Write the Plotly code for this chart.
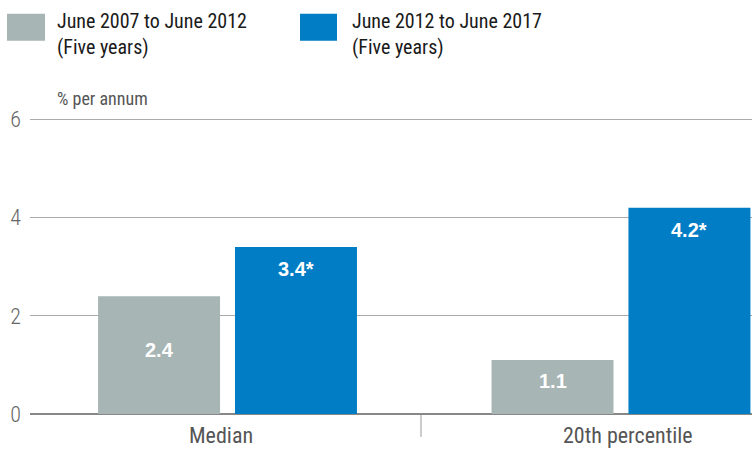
import plotly.graph_objects as go

categories = ["Median", "20th percentile"]
series_names = ["June 2007 to June 2012<br>(Five years)", "June 2012 to June 2017<br>(Five years)"]
values_2007_2012 = [2.4, 1.1]
values_2012_2017 = [3.4, 4.2]
labels_2007_2012 = ["2.4", "1.1"]
labels_2012_2017 = ["3.4*", "4.2*"]
y_ticks = [0, 2, 4, 6]
y_title = "% per annum"

GREY = "#A8B5B5"
BLUE = "#007DC5"
FONT = "Roboto Condensed, Roboto, sans-serif"

W, H = 752, 450
L, R, T, B = 30, 0, 116.5, 36
pw, ph = W - L - R, H - T - B

def px(x):
    return (x - L) / pw

def py(y):
    return (H - B - y) / ph

xpos = [0, 1]
offset = 0.174
bw = 0.31

fig = go.Figure()
fig.add_trace(go.Bar(x=[p - offset for p in xpos], y=values_2007_2012, width=bw,
                     marker=dict(color=GREY, line=dict(width=0)), name=series_names[0],
                     showlegend=False, hoverinfo="skip"))
fig.add_trace(go.Bar(x=[p + offset for p in xpos], y=values_2012_2017, width=bw,
                     marker=dict(color=BLUE, line=dict(width=0)), name=series_names[1],
                     showlegend=False, hoverinfo="skip"))

annotations = []
yshifts_a = [-54, -21]
for p, v, t, s in zip(xpos, values_2007_2012, labels_2007_2012, yshifts_a):
    annotations.append(dict(x=p - offset, y=v, xref="x", yref="y", text=t, showarrow=False,
                            yanchor="middle", yshift=s,
                            font=dict(family="Liberation Sans, Arial", size=20, color="white", weight="bold")))
for p, v, t in zip(xpos, values_2012_2017, labels_2012_2017):
    annotations.append(dict(x=p + offset, y=v, xref="x", yref="y", text=t, showarrow=False,
                            yanchor="middle", yshift=-22,
                            font=dict(family="Liberation Sans, Arial", size=20, color="white", weight="bold")))
for p, c, xs in zip(xpos, categories, [-7, 7]):
    annotations.append(dict(x=p, y=0, xref="x", yref="y", text=c, showarrow=False,
                            yanchor="middle", yshift=-21, xshift=xs,
                            font=dict(family=FONT, size=22, color="#555555")))
annotations.append(dict(x=px(55), y=py(98), xref="paper", yref="paper", text=y_title,
                        showarrow=False, xanchor="left", yanchor="middle",
                        font=dict(family=FONT, size=18, color="#555555")))
for lx, name in [(55, series_names[0]), (350, series_names[1])]:
    annotations.append(dict(x=px(lx), y=py(33), xref="paper", yref="paper", text=name,
                            showarrow=False, xanchor="left", yanchor="middle", align="left",
                            font=dict(family=FONT, size=20, color="#1a1a1a")))

shapes = [
    dict(type="rect", xref="paper", yref="paper", x0=px(7), x1=px(45), y0=py(40), y1=py(13),
         fillcolor=GREY, line=dict(width=0)),
    dict(type="rect", xref="paper", yref="paper", x0=px(300), x1=px(337), y0=py(40), y1=py(13),
         fillcolor=BLUE, line=dict(width=0)),
    dict(type="line", xref="paper", yref="paper", x0=px(421), x1=px(421), y0=py(415), y1=py(437),
         line=dict(color="#999999", width=1)),
]

fig.update_layout(
    width=W, height=H,
    margin=dict(l=L, r=R, t=T, b=B),
    paper_bgcolor="white", plot_bgcolor="white",
    barmode="overlay",
    annotations=annotations, shapes=shapes,
    xaxis=dict(range=[-0.502, 1.333], showticklabels=False, showgrid=False, zeroline=False,
               showline=False, fixedrange=True),
    yaxis=dict(range=[0, 6.05], tickvals=y_ticks, ticktext=[str(t) for t in y_ticks],
               showgrid=True, gridcolor="#AAAAAA", gridwidth=1,
               zeroline=True, zerolinecolor="#888888", zerolinewidth=2,
               showline=False, ticks="", ticklabelstandoff=8, fixedrange=True,
               tickfont=dict(family=FONT, size=22, color="#666666", weight=300)),
    showlegend=False,
)

fig.write_html("out.html", config={"displayModeBar": False},
               post_script="document.body.style.margin='0';document.body.style.overflow='hidden';")
